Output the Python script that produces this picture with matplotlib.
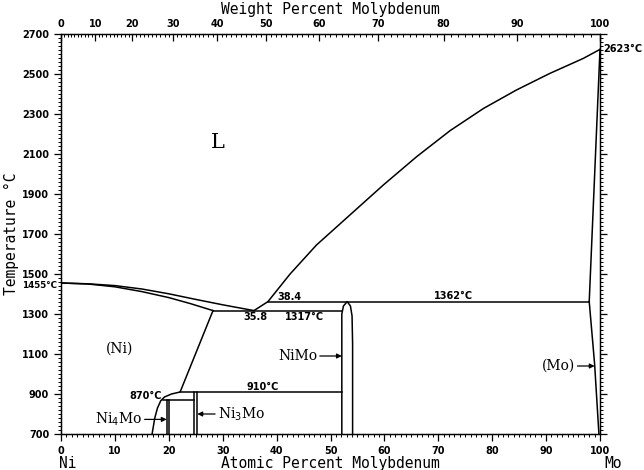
import numpy as np
import matplotlib
matplotlib.use('Agg')
import matplotlib.pyplot as plt
from matplotlib.ticker import MultipleLocator

# phase boundaries (atomic % Mo, temperature in C)
liq_ni_x = [0, 5, 10, 15, 20, 25, 30, 35.8]
liq_ni_t = [1455, 1451, 1442, 1425, 1401, 1373, 1346, 1317]
liq_mo_x = [35.8, 38.4, 42.5, 47.4, 53.6, 59.8, 66.0, 72.2, 78.4, 84.5, 90.7, 96.9, 100]
liq_mo_t = [1317, 1362, 1500, 1645, 1795, 1945, 2087, 2217, 2328, 2420, 2503, 2578, 2623]
sol_ni_x = [0, 5, 10, 15, 20, 24, 28.2]
sol_ni_t = [1455, 1450, 1436, 1412, 1382, 1352, 1317]
solvus_ni_x = [28.2, 22.1, 20.5, 19.2, 18.5, 17.9, 17.4, 16.9]
solvus_ni_t = [1317, 910, 900, 885, 866, 830, 780, 700]
nimo_x = [52.1, 52.1, 52.4, 53.1, 53.7, 54.0, 54.1, 54.1]
nimo_t = [700, 1300, 1340, 1362, 1340, 1290, 1150, 700]
mo_sol_x = [100, 98.0]
mo_sol_t = [2623, 1362]
mo_solvus_x = [98.0, 99.0, 99.8]
mo_solvus_t = [1362, 1050, 700]
ni4mo_x = [19.6, 20.1]
ni3mo_x = [24.6, 25.3]

# invariant lines: (x start, x end, temperature)
inv_lines = [(28.2, 52.1, 1317), (38.4, 98.0, 1362), (22.1, 52.1, 910), (19.0, 24.6, 870)]

temp_labels = np.arange(700, 2701, 200)
wt_labels = np.arange(0, 101, 10)


def wt_to_at(w):
    w = np.asarray(w, dtype=float)
    a = w / 95.95
    b = (100 - w) / 58.69
    return 100 * a / (a + b)


fig = plt.figure(figsize=(6.44, 4.70), dpi=100)
ax = fig.add_axes([61 / 644, 1 - 434 / 470, 539 / 644, 400 / 470])

lw = 1.1
k = 'black'
ax.plot(liq_ni_x, liq_ni_t, color=k, lw=lw)
ax.plot(liq_mo_x, liq_mo_t, color=k, lw=lw)
ax.plot(sol_ni_x, sol_ni_t, color=k, lw=lw)
ax.plot(solvus_ni_x, solvus_ni_t, color=k, lw=lw)
ax.plot(nimo_x, nimo_t, color=k, lw=lw)
ax.plot(mo_sol_x, mo_sol_t, color=k, lw=lw)
ax.plot(mo_solvus_x, mo_solvus_t, color=k, lw=lw)
for xs in ni4mo_x:
    ax.plot([xs, xs], [700, 870], color=k, lw=lw)
for xs in ni3mo_x:
    ax.plot([xs, xs], [700, 910], color=k, lw=lw)
for x0, x1, t in inv_lines:
    ax.plot([x0, x1], [t, t], color=k, lw=lw)

ax.set_xlim(0, 100)
ax.set_ylim(700, 2700)

small = dict(fontsize=7, fontweight='bold', family='DejaVu Sans')
ax.xaxis.set_major_locator(MultipleLocator(10))
ax.xaxis.set_minor_locator(MultipleLocator(1))
ax.set_yticks(temp_labels)
ax.yaxis.set_minor_locator(MultipleLocator(20))
ax.tick_params(which='major', length=5, width=0.9, labelsize=7, right=True)
ax.tick_params(which='minor', length=2, width=0.7, right=True)
for lab in ax.get_xticklabels() + ax.get_yticklabels():
    lab.set_fontweight('bold')
for sp in ax.spines.values():
    sp.set_linewidth(1.0)

# weight percent on top
top = ax.twiny()
top.set_xlim(0, 100)
top.set_xticks(wt_to_at(wt_labels))
top.set_xticklabels([str(w) for w in wt_labels], fontsize=7, fontweight='bold')
top.set_xticks(wt_to_at(np.arange(0, 101, 1)), minor=True)
top.tick_params(which='major', direction='in', length=5, width=0.9)
top.tick_params(which='minor', direction='in', length=2, width=0.7)
top.set_xlabel('Weight Percent Molybdenum', family='DejaVu Sans Mono', fontsize=10.5, labelpad=4)

ax.set_xlabel('Atomic Percent Molybdenum', family='DejaVu Sans Mono', fontsize=10.5, labelpad=0)
ax.set_ylabel('Temperature \u00b0C', family='DejaVu Sans Mono', fontsize=10.5, labelpad=2)

# element names under the axis
fig.text(68 / 644, 1 - 463 / 470, 'Ni', family='DejaVu Sans Mono', fontsize=10.5, ha='center', va='center')
fig.text(613 / 644, 1 - 463 / 470, 'Mo', family='DejaVu Sans Mono', fontsize=10.5, ha='center', va='center')

# temperatures outside the frame
fig.text(57 / 644, 1 - 285 / 470, '1455\u00b0C', ha='right', va='center',
         fontsize=6.3, fontweight='bold', family='DejaVu Sans')
fig.text(603 / 644, 1 - 49 / 470, '2623\u00b0C', ha='left', va='center', **small)

serif = 'DejaVu Serif'
ax.text(29.1, 2155, 'L', family=serif, fontsize=15, ha='center', va='center')
ax.text(10.9, 1125, '(Ni)', family=serif, fontsize=10, ha='center', va='center')
ax.text(18.8, 888, '870\u00b0C', ha='right', va='center', **small)
ax.text(37.5, 935, '910\u00b0C', ha='center', va='center', **small)
ax.text(45.1, 1285, '1317\u00b0C', ha='center', va='center', **small)
ax.text(36.0, 1285, '35.8', ha='center', va='center', **small)
ax.text(42.3, 1385, '38.4', ha='center', va='center', **small)
ax.text(72.8, 1390, '1362\u00b0C', ha='center', va='center', **small)

arrow = dict(arrowstyle='-|>', color=k, lw=0.9, mutation_scale=7, shrinkA=0, shrinkB=0)
ax.annotate('Ni$_4$Mo', xy=(19.6, 773), xytext=(15.0, 773), family=serif, fontsize=10,
            ha='right', va='center', arrowprops=arrow)
ax.annotate('Ni$_3$Mo', xy=(25.3, 800), xytext=(29.1, 800), family=serif, fontsize=10,
            ha='left', va='center', arrowprops=arrow)
ax.annotate('NiMo', xy=(52.1, 1090), xytext=(47.5, 1090), family=serif, fontsize=10,
            ha='right', va='center', arrowprops=arrow)
ax.annotate('(Mo)', xy=(99.0, 1040), xytext=(95.3, 1040), family=serif, fontsize=10,
            ha='right', va='center', arrowprops=arrow)

fig.savefig('out.png', dpi=100)
